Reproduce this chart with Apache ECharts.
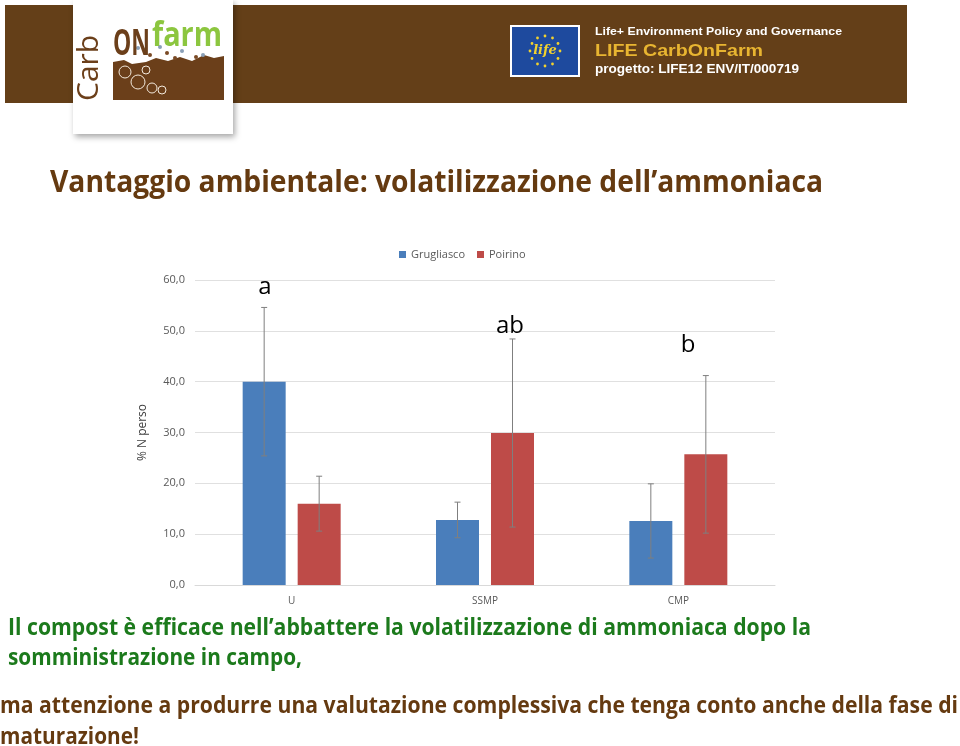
<!DOCTYPE html>
<html>
<head>
<meta charset="utf-8">
<script src="https://cdn.jsdelivr.net/npm/echarts@6/dist/echarts.min.js"></script>
<style>
html,body{margin:0;padding:0;background:#fff;}
#main{width:960px;height:746px;}
</style>
</head>
<body>
<div id="main"></div>
<script>
// ---- data ----
var categories = ['U', 'SSMP', 'CMP'];
var seriesNames = ['Grugliasco', 'Poirino'];
var grugliasco = [40.0, 12.8, 12.6];
var poirino = [16.0, 29.9, 25.7];
var grugliascoErr = [14.6, 3.5, 7.3];
var poirinoErr = [5.4, 18.5, 15.5];
var yTicks = [0, 10, 20, 30, 40, 50, 60];
var letters = ['a', 'ab', 'b'];

// ---- helpers ----
var measureCtx = document.createElement('canvas').getContext('2d');
function fitText(text, x, y, width, font, fill, extra) {
  measureCtx.font = font;
  var w = measureCtx.measureText(text).width;
  var el = {
    type: 'text', x: x, y: y, scaleX: width / w, z: 100,
    style: { text: text, font: font, fill: fill, textAlign: 'left', textVerticalAlign: 'middle' }
  };
  if (extra) for (var k in extra) el[k] = extra[k];
  return el;
}

var barWidth = 43, barGapPx = 12;
var centerOffset = (barWidth + barGapPx) / 2;

function errData(vals, errs) {
  return vals.map(function (v, i) { return [i, v - errs[i], v + errs[i]]; });
}
function errRenderer(sign) {
  return function (params, api) {
    var ci = api.value(0), lo = api.value(1), hi = api.value(2);
    var pTop = api.coord([ci, hi]);
    var pBot = api.coord([ci, lo]);
    var x = pTop[0] + sign * centerOffset;
    var st = { stroke: '#7f7f7f', lineWidth: 1 };
    return {
      type: 'group',
      children: [
        { type: 'line', shape: { x1: x, y1: pTop[1], x2: x, y2: pBot[1] }, style: st },
        { type: 'line', shape: { x1: x - 3, y1: pTop[1], x2: x + 3, y2: pTop[1] }, style: st },
        { type: 'line', shape: { x1: x - 3, y1: pBot[1], x2: x + 3, y2: pBot[1] }, style: st }
      ]
    };
  };
}

// ---- header graphics ----
var brown = '#643f18';
var graphics = [];
graphics.push({ type: 'rect', shape: { x: 5, y: 5, width: 902, height: 98 }, style: { fill: brown }, z: 1 });
// logo box
graphics.push({ type: 'rect', shape: { x: 73, y: 0, width: 160, height: 134 }, style: { fill: '#ffffff', shadowBlur: 6, shadowColor: 'rgba(0,0,0,0.35)', shadowOffsetX: 2, shadowOffsetY: 3 }, z: 2 });
// soil
graphics.push({ type: 'polygon', shape: { points: [[113,100],[113,62],[124,60],[132,64],[146,62],[156,58],[168,61],[180,57],[192,61],[204,55],[214,58],[224,56],[224,100]] }, style: { fill: '#6b3f1a' }, z: 3 });
// leaf doodles (white outlines)
[[125,72,6],[138,82,7],[152,88,5],[146,70,4],[162,90,4]].forEach(function (c) {
  graphics.push({ type: 'circle', shape: { cx: c[0], cy: c[1], r: c[2] }, style: { fill: 'none', stroke: '#f3e9dc', lineWidth: 1 }, z: 4 });
});
// dots
[[138,48,'#8aa0b8'],[150,55,'#7a4a25'],[160,47,'#8aa0b8'],[167,53,'#7a4a25'],[175,58,'#7a4a25'],[182,51,'#8aa0b8'],[196,57,'#7a4a25'],[203,55,'#8aa0b8']].forEach(function (d) {
  graphics.push({ type: 'circle', shape: { cx: d[0], cy: d[1], r: 2 }, style: { fill: d[2] }, z: 4 });
});
graphics.push(fitText('ON', 113, 45, 37, 'bold 36px "Liberation Sans Narrow", "Open Sans"', '#6b3f1a', { z: 5 }));
graphics.push(fitText('farm', 152, 36, 70, 'bold 34px "Open Sans"', '#8cc63f', { z: 5 }));
graphics.push({ type: 'text', x: 89, y: 101, rotation: Math.PI / 2, z: 5,
  style: { text: 'Carb', font: '30px "Open Sans"', fill: '#6b3f1a', textAlign: 'left', textVerticalAlign: 'middle' } });

// EU flag
graphics.push({ type: 'rect', shape: { x: 510, y: 25, width: 70, height: 52 }, style: { fill: '#ffffff' }, z: 3 });
graphics.push({ type: 'rect', shape: { x: 512, y: 27, width: 66, height: 48 }, style: { fill: '#1e4a9e' }, z: 4 });
for (var s = 0; s < 12; s++) {
  var ang = s * Math.PI / 6;
  graphics.push({ type: 'circle', shape: { cx: 545 + 15 * Math.cos(ang), cy: 51 + 15 * Math.sin(ang), r: 1.4 }, style: { fill: '#f2d22e' }, z: 5 });
}
graphics.push({ type: 'text', x: 545, y: 51, z: 5, style: { text: 'life', font: 'italic bold 13px "DejaVu Serif"', fill: '#f2d22e', textAlign: 'center', textVerticalAlign: 'middle' } });

graphics.push(fitText('Life+ Environment Policy and Governance', 595, 32, 247, 'bold 11px "Liberation Sans"', '#ffffff'));
graphics.push(fitText('LIFE CarbOnFarm', 595, 51, 168, 'bold 17px "Liberation Sans"', '#e8b531'));
graphics.push(fitText('progetto: LIFE12 ENV/IT/000719', 595, 70, 204, 'bold 12px "Liberation Sans"', '#ffffff'));

// title
var titleColor = '#653a10';
graphics.push(fitText('Vantaggio ambientale: volatilizzazione dell\u2019ammoniaca', 50, 183, 773, 'bold 30px "Open Sans"', titleColor));

// significance letters
var letterPos = [[265, 287], [510, 326], [688, 345]];
letters.forEach(function (t, i) {
  graphics.push({ type: 'text', x: letterPos[i][0], y: letterPos[i][1], z: 100,
    style: { text: t, font: '24px "Open Sans"', fill: '#000000', textAlign: 'center', textVerticalAlign: 'middle' } });
});

// bottom text
var green = '#1c7a1c';
graphics.push(fitText('Il compost \u00e8 efficace nell\u2019abbattere la volatilizzazione di ammoniaca dopo la', 8, 628, 803, 'bold 23px "Open Sans"', green));
graphics.push(fitText('somministrazione in campo,', 8, 658, 294, 'bold 23px "Open Sans"', green));
graphics.push(fitText('ma attenzione a produrre una valutazione complessiva che tenga conto anche della fase di', 0, 706, 958, 'bold 23px "Open Sans"', titleColor));
graphics.push(fitText('maturazione!', 0, 737, 139, 'bold 23px "Open Sans"', titleColor));

// ---- chart ----
var chart = echarts.init(document.getElementById('main'), null, { renderer: 'canvas' });
var axisFont = '"Open Sans", "Liberation Sans", sans-serif';
chart.setOption({
  animation: false,
  backgroundColor: '#ffffff',
  graphic: { elements: graphics },
  legend: {
    data: seriesNames,
    left: 394, top: 244,
    icon: 'rect', itemWidth: 7, itemHeight: 7, itemGap: 12,
    textStyle: { color: '#595959', fontSize: 11, fontFamily: axisFont }
  },
  grid: { left: 195, right: 185, top: 280, bottom: 161, containLabel: false },
  xAxis: {
    type: 'category', data: categories,
    axisLine: { lineStyle: { color: '#d9d9d9' } },
    axisTick: { show: false },
    axisLabel: { color: '#595959', fontSize: 10, margin: 11, fontFamily: axisFont }
  },
  yAxis: {
    type: 'value', min: yTicks[0], max: yTicks[yTicks.length - 1], interval: yTicks[1] - yTicks[0],
    name: '% N perso', nameLocation: 'middle', nameGap: 46, nameRotate: 90,
    nameTextStyle: { color: '#404040', fontSize: 12, fontFamily: axisFont },
    axisLine: { show: false }, axisTick: { show: false },
    splitLine: { lineStyle: { color: '#e0e0e0' } },
    axisLabel: { color: '#595959', fontSize: 11, margin: 10, fontFamily: axisFont,
      formatter: function (v) { return v.toFixed(1).replace('.', ','); } }
  },
  series: [
    { name: seriesNames[0], type: 'bar', data: grugliasco, barWidth: barWidth, barGap: (barGapPx / barWidth * 100).toFixed(1) + '%', itemStyle: { color: '#4a7ebb' } },
    { name: seriesNames[1], type: 'bar', data: poirino, barWidth: barWidth, itemStyle: { color: '#be4b48' } },
    { type: 'custom', name: 'errG', renderItem: errRenderer(-1), data: errData(grugliasco, grugliascoErr), z: 10, silent: true },
    { type: 'custom', name: 'errP', renderItem: errRenderer(1), data: errData(poirino, poirinoErr), z: 10, silent: true }
  ]
});
</script>
</body>
</html>
